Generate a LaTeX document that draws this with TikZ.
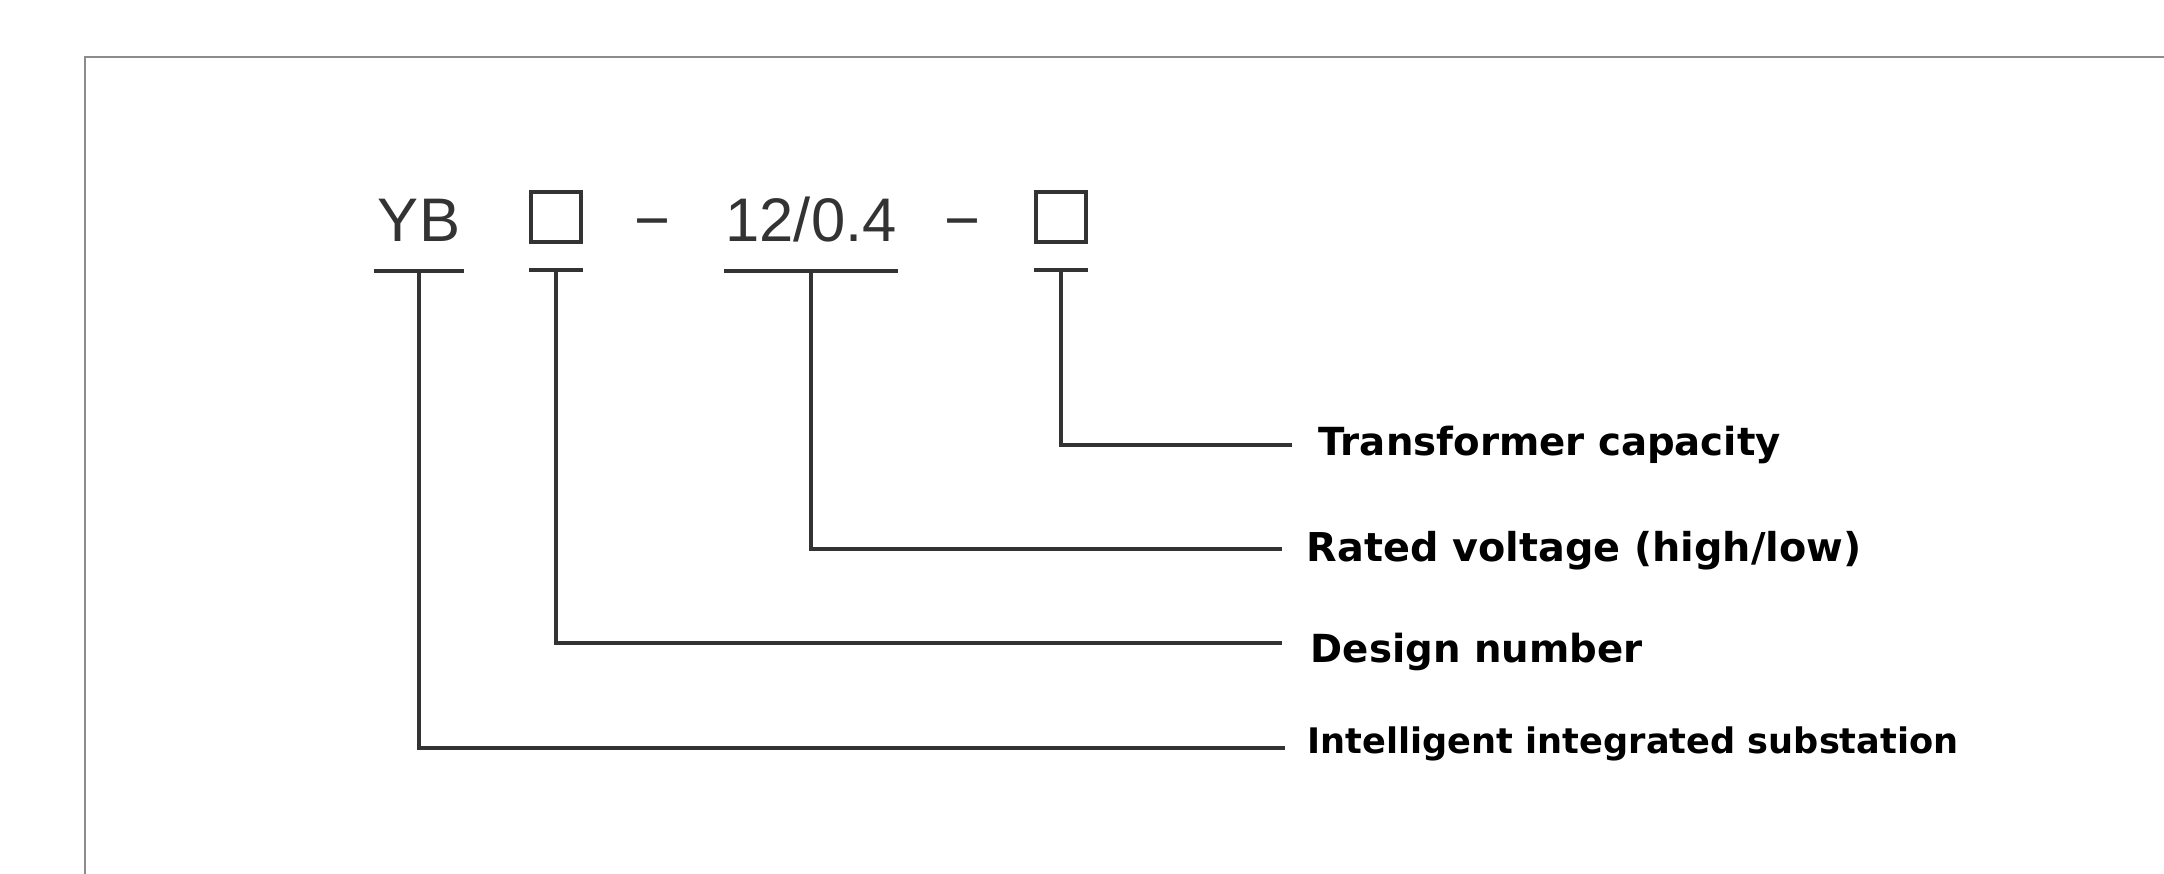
\documentclass[tikz,border=0pt]{standalone}
\usepackage{fontspec}
\setmainfont{Liberation Sans}
\newfontfamily\labelfont{DejaVu Sans}
\usetikzlibrary{positioning}

\begin{document}
\begin{tikzpicture}[x=0.01cm,y=-0.01cm,
  code/.style={inner ysep=0pt,inner xsep=0.03cm,anchor=base,text height=0.72em,text depth=0pt,
    font=\fontsize{17.5}{20}\selectfont,text=black!80},
  slot/.style={draw=black!80,line width=1.1pt,minimum width=0.5cm,minimum height=0.5cm,inner sep=0pt},
  conn/.style={draw=black!80,line width=1.2pt},
  tag/.style={inner sep=0pt,anchor=base west,text height=0.75em,text depth=0.25em,
    font=\labelfont\bfseries\fontsize{11}{13}\selectfont}]
\useasboundingbox (0,0) rectangle (2164,874);
\draw[black!45,line width=0.6pt] (85,874) -- (85,57) -- (2164,57);

% model code
\node[code] (yb) at (419,242) {YB};
\node[slot,anchor=south] (des) at (556,244) {};
\node[code] (dasha) at (652,242) {−};
\node[code,inner xsep=0.005cm] (volt) at (811,242) {12/0.4};
\node[code] (dashb) at (962,242) {−};
\node[slot,anchor=south] (cap) at (1061,244) {};

% meanings
\node[tag] (tcap) at (1318,456) {Transformer capacity};
\node[tag,font=\labelfont\bfseries\fontsize{11.3}{13}\selectfont] (tvolt) at (1306,562) {Rated voltage (high/low)};
\node[tag] (tdes) at (1310,663) {Design number};
\node[tag,font=\labelfont\bfseries\fontsize{10}{12}\selectfont] (tyb) at (1307,754) {Intelligent integrated substation};

\draw[conn] ([yshift=-0.28cm]yb.south west) -- ([yshift=-0.28cm]yb.south east);
\draw[conn] ([yshift=-0.26cm]des.south west) -- ([yshift=-0.26cm]des.south east);
\draw[conn] ([yshift=-0.28cm]volt.south west) -- ([yshift=-0.28cm]volt.south east);
\draw[conn] ([yshift=-0.26cm]cap.south west) -- ([yshift=-0.26cm]cap.south east);

\foreach \n/\t/\g/\s in {cap/tcap/0.26cm/0.02cm,volt/tvolt/0.24cm/0.04cm,des/tdes/0.28cm/0.11cm,yb/tyb/0.22cm/-0.03cm}
  \draw[conn,shorten >=\g] ([yshift=-0.27cm]\n.south) |- ([yshift=\s]\t.west);
\end{tikzpicture}
\end{document}
